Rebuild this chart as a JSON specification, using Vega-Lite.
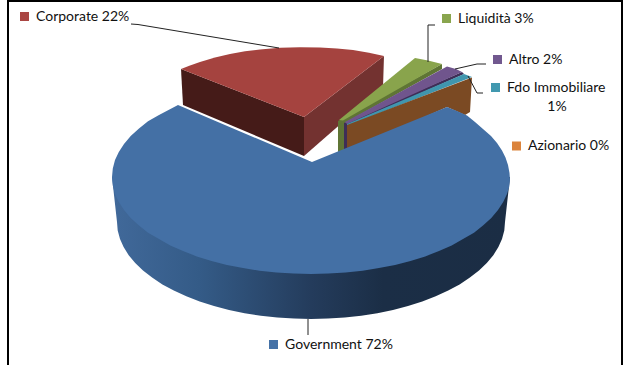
{
  "$schema": "https://vega.github.io/schema/vega-lite/v6.json",
  "width": 623,
  "height": 365,
  "padding": 0,
  "autosize": {"type": "none"},
  "background": "white",
  "view": {"stroke": null},
  "datasets": {
    "frame": [
      {"i": 0, "x": 8, "y": 365}, {"i": 1, "x": 8, "y": 1}, {"i": 2, "x": 622, "y": 1}, {"i": 3, "x": 622, "y": 365}
    ],
    "faces": [
      {"face": "Corporate cut left", "i": 0, "x": 181, "y": 69}, {"face": "Corporate cut left", "i": 1, "x": 304, "y": 117}, {"face": "Corporate cut left", "i": 2, "x": 304, "y": 156}, {"face": "Corporate cut left", "i": 3, "x": 183, "y": 105},
      {"face": "Corporate cut right", "i": 0, "x": 304, "y": 117}, {"face": "Corporate cut right", "i": 1, "x": 384, "y": 56}, {"face": "Corporate cut right", "i": 2, "x": 383, "y": 87}, {"face": "Corporate cut right", "i": 3, "x": 304, "y": 156},
      {"face": "Corporate top", "i": 0, "x": 181, "y": 69}, {"face": "Corporate top", "i": 1, "x": 190, "y": 65.5}, {"face": "Corporate top", "i": 2, "x": 200, "y": 62}, {"face": "Corporate top", "i": 3, "x": 215, "y": 57.5}, {"face": "Corporate top", "i": 4, "x": 230, "y": 54}, {"face": "Corporate top", "i": 5, "x": 245, "y": 51.3}, {"face": "Corporate top", "i": 6, "x": 260, "y": 49.5}, {"face": "Corporate top", "i": 7, "x": 280, "y": 47.7}, {"face": "Corporate top", "i": 8, "x": 300, "y": 47.2}, {"face": "Corporate top", "i": 9, "x": 320, "y": 47.5}, {"face": "Corporate top", "i": 10, "x": 337, "y": 48.5}, {"face": "Corporate top", "i": 11, "x": 353, "y": 50}, {"face": "Corporate top", "i": 12, "x": 369, "y": 52.8}, {"face": "Corporate top", "i": 13, "x": 384, "y": 56}, {"face": "Corporate top", "i": 14, "x": 304, "y": 117},
      {"face": "Liquidita side", "i": 0, "x": 338, "y": 121}, {"face": "Liquidita side", "i": 1, "x": 442, "y": 64}, {"face": "Liquidita side", "i": 2, "x": 442, "y": 69}, {"face": "Liquidita side", "i": 3, "x": 345, "y": 123}, {"face": "Liquidita side", "i": 4, "x": 344, "y": 155}, {"face": "Liquidita side", "i": 5, "x": 338, "y": 155},
      {"face": "Liquidita top", "i": 0, "x": 339, "y": 120}, {"face": "Liquidita top", "i": 1, "x": 415, "y": 58}, {"face": "Liquidita top", "i": 2, "x": 428, "y": 60.5}, {"face": "Liquidita top", "i": 3, "x": 442, "y": 64}, {"face": "Liquidita top", "i": 4, "x": 343, "y": 120.5},
      {"face": "Altro side", "i": 0, "x": 344, "y": 123}, {"face": "Altro side", "i": 1, "x": 462, "y": 72}, {"face": "Altro side", "i": 2, "x": 464, "y": 74}, {"face": "Altro side", "i": 3, "x": 347, "y": 126}, {"face": "Altro side", "i": 4, "x": 347, "y": 155}, {"face": "Altro side", "i": 5, "x": 344, "y": 155},
      {"face": "Altro top", "i": 0, "x": 345, "y": 122}, {"face": "Altro top", "i": 1, "x": 447, "y": 66.5}, {"face": "Altro top", "i": 2, "x": 456, "y": 69}, {"face": "Altro top", "i": 3, "x": 462, "y": 72}, {"face": "Altro top", "i": 4, "x": 347, "y": 124},
      {"face": "Fdo top", "i": 0, "x": 347, "y": 124}, {"face": "Fdo top", "i": 1, "x": 464, "y": 74}, {"face": "Fdo top", "i": 2, "x": 472, "y": 77}, {"face": "Fdo top", "i": 3, "x": 347, "y": 126},
      {"face": "Azionario", "i": 0, "x": 347, "y": 125}, {"face": "Azionario", "i": 1, "x": 472, "y": 77.5}, {"face": "Azionario", "i": 2, "x": 470, "y": 112}, {"face": "Azionario", "i": 3, "x": 465, "y": 115}, {"face": "Azionario", "i": 4, "x": 447, "y": 107}, {"face": "Azionario", "i": 5, "x": 347, "y": 152}
    ],
    "governmentSide": [
      {"i": 0, "x": 510, "y": 177}, {"i": 1, "x": 505, "y": 222}, {"i": 2, "x": 504.3, "y": 230.5}, {"i": 3, "x": 502, "y": 239}, {"i": 4, "x": 498.4, "y": 247.1}, {"i": 5, "x": 493.3, "y": 255.2}, {"i": 6, "x": 486.8, "y": 263}, {"i": 7, "x": 479, "y": 270.5}, {"i": 8, "x": 469.9, "y": 277.6}, {"i": 9, "x": 459.6, "y": 284.4}, {"i": 10, "x": 448.2, "y": 290.6}, {"i": 11, "x": 435.7, "y": 296.3}, {"i": 12, "x": 422.3, "y": 301.5}, {"i": 13, "x": 408, "y": 306}, {"i": 14, "x": 393, "y": 309.9}, {"i": 15, "x": 377.4, "y": 313.2}, {"i": 16, "x": 361.2, "y": 315.7}, {"i": 17, "x": 344.7, "y": 317.5}, {"i": 18, "x": 327.9, "y": 318.6}, {"i": 19, "x": 311, "y": 319}, {"i": 20, "x": 294.1, "y": 318.6}, {"i": 21, "x": 277.3, "y": 317.5}, {"i": 22, "x": 260.8, "y": 315.7}, {"i": 23, "x": 244.6, "y": 313.2}, {"i": 24, "x": 229, "y": 309.9}, {"i": 25, "x": 214, "y": 306}, {"i": 26, "x": 199.7, "y": 301.5}, {"i": 27, "x": 186.3, "y": 296.3}, {"i": 28, "x": 173.8, "y": 290.6}, {"i": 29, "x": 162.4, "y": 284.4}, {"i": 30, "x": 152.1, "y": 277.6}, {"i": 31, "x": 143, "y": 270.5}, {"i": 32, "x": 135.2, "y": 263}, {"i": 33, "x": 128.7, "y": 255.2}, {"i": 34, "x": 123.6, "y": 247.1}, {"i": 35, "x": 120, "y": 239}, {"i": 36, "x": 117.7, "y": 230.5}, {"i": 37, "x": 117, "y": 222}, {"i": 38, "x": 112, "y": 177}
    ],
    "governmentTop": [
      {"i": 0, "x": 510, "y": 180}, {"i": 1, "x": 509.2, "y": 187}, {"i": 2, "x": 507, "y": 194}, {"i": 3, "x": 503.2, "y": 202.1}, {"i": 4, "x": 498, "y": 210}, {"i": 5, "x": 491.3, "y": 218}, {"i": 6, "x": 483, "y": 225.5}, {"i": 7, "x": 474, "y": 232.7}, {"i": 8, "x": 463, "y": 239}, {"i": 9, "x": 451.7, "y": 245.6}, {"i": 10, "x": 439, "y": 251}, {"i": 11, "x": 425.2, "y": 256.4}, {"i": 12, "x": 410.5, "y": 261}, {"i": 13, "x": 395.1, "y": 264.9}, {"i": 14, "x": 379, "y": 268}, {"i": 15, "x": 362.5, "y": 270.7}, {"i": 16, "x": 345.6, "y": 272.5}, {"i": 17, "x": 328.3, "y": 273.6}, {"i": 18, "x": 311, "y": 274}, {"i": 19, "x": 293.7, "y": 273.6}, {"i": 20, "x": 276.4, "y": 272.5}, {"i": 21, "x": 259.5, "y": 270.7}, {"i": 22, "x": 243, "y": 268}, {"i": 23, "x": 226.9, "y": 264.9}, {"i": 24, "x": 211.5, "y": 261}, {"i": 25, "x": 196.8, "y": 256.4}, {"i": 26, "x": 183, "y": 251}, {"i": 27, "x": 170.3, "y": 245.6}, {"i": 28, "x": 159, "y": 239}, {"i": 29, "x": 148, "y": 232.7}, {"i": 30, "x": 139, "y": 225.5}, {"i": 31, "x": 130.7, "y": 218}, {"i": 32, "x": 124, "y": 210}, {"i": 33, "x": 118.8, "y": 202.1}, {"i": 34, "x": 115, "y": 194}, {"i": 35, "x": 112.8, "y": 185.5}, {"i": 36, "x": 112, "y": 177}, {"i": 37, "x": 112.8, "y": 168.5}, {"i": 38, "x": 115, "y": 160}, {"i": 39, "x": 118.8, "y": 151.9}, {"i": 40, "x": 124, "y": 144}, {"i": 41, "x": 130.7, "y": 136}, {"i": 42, "x": 139, "y": 128.5}, {"i": 43, "x": 148, "y": 121.3}, {"i": 44, "x": 159, "y": 115}, {"i": 45, "x": 178, "y": 105}, {"i": 46, "x": 312, "y": 162}, {"i": 47, "x": 447, "y": 107}, {"i": 48, "x": 457, "y": 111}, {"i": 49, "x": 467, "y": 115.5}, {"i": 50, "x": 475, "y": 122}, {"i": 51, "x": 483, "y": 129}, {"i": 52, "x": 491, "y": 136}, {"i": 53, "x": 497, "y": 143}, {"i": 54, "x": 502, "y": 150.5}, {"i": 55, "x": 505.5, "y": 157.5}, {"i": 56, "x": 508, "y": 165}, {"i": 57, "x": 509.5, "y": 173}
    ],
    "leaders": [
      {"leader": "Corporate", "i": 0, "x": 131, "y": 24}, {"leader": "Corporate", "i": 1, "x": 138, "y": 24.5}, {"leader": "Corporate", "i": 2, "x": 279, "y": 48},
      {"leader": "Liquidita", "i": 0, "x": 435, "y": 25}, {"leader": "Liquidita", "i": 1, "x": 428, "y": 25}, {"leader": "Liquidita", "i": 2, "x": 428, "y": 62},
      {"leader": "Altro", "i": 0, "x": 486, "y": 64}, {"leader": "Altro", "i": 1, "x": 477, "y": 64}, {"leader": "Altro", "i": 2, "x": 455, "y": 69},
      {"leader": "Fdo", "i": 0, "x": 483, "y": 93}, {"leader": "Fdo", "i": 1, "x": 477, "y": 93}, {"leader": "Fdo", "i": 2, "x": 468, "y": 76},
      {"leader": "Government", "i": 0, "x": 308, "y": 319}, {"leader": "Government", "i": 1, "x": 308, "y": 335}
    ],
    "legend": [
      {"name": "Corporate", "share": 22, "text": "Corporate 22%", "sx": 24.5, "sy": 16.5, "tx": 36, "ty": 17},
      {"name": "Liquidità", "share": 3, "text": "Liquidità 3%", "sx": 446.5, "sy": 18.5, "tx": 458, "ty": 19},
      {"name": "Altro", "share": 2, "text": "Altro 2%", "sx": 497.5, "sy": 59.5, "tx": 509, "ty": 60},
      {"name": "Fdo Immobiliare", "share": 1, "text": "Fdo Immobiliare", "sx": 495.5, "sy": 87.5, "tx": 507, "ty": 88},
      {"name": "Azionario", "share": 0, "text": "Azionario 0%", "sx": 516.5, "sy": 146, "tx": 528, "ty": 146},
      {"name": "Government", "share": 72, "text": "Government 72%", "sx": 273.5, "sy": 344.5, "tx": 285, "ty": 345}
    ],
    "wrapped": [{"text": "1%", "tx": 557, "ty": 107}]
  },
  "encoding": {
    "x": {"type": "quantitative", "scale": {"domain": [0, 623], "nice": false, "zero": false}, "axis": null},
    "y": {"type": "quantitative", "scale": {"domain": [0, 365], "reverse": true, "nice": false, "zero": false}, "axis": null}
  },
  "layer": [
    {
      "data": {"name": "faces"},
      "mark": {"type": "line", "stroke": null, "strokeWidth": 0, "interpolate": "linear-closed"},
      "encoding": {
        "x": {"field": "x"},
        "y": {"field": "y"},
        "order": {"field": "i", "type": "ordinal"},
        "fill": {
          "field": "face",
          "type": "nominal",
          "legend": null,
          "scale": {
            "domain": ["Corporate cut left", "Corporate cut right", "Corporate top", "Liquidita side", "Liquidita top", "Altro side", "Altro top", "Fdo top", "Azionario"],
            "range": ["#451b18", "#733230", "#A5433F", "#5f7535", "#89A44C", "#3e2e57", "#70558D", "#4096AE", "#7b4a23"]
          }
        }
      }
    },
    {
      "data": {"name": "governmentSide"},
      "mark": {
        "type": "line",
        "stroke": null,
        "strokeWidth": 0,
        "interpolate": "linear-closed",
        "fill": {
          "gradient": "linear",
          "x1": 0, "y1": 0, "x2": 1, "y2": 0,
          "stops": [
            {"offset": 0, "color": "#41699a"},
            {"offset": 0.22, "color": "#345b87"},
            {"offset": 0.5, "color": "#243c5c"},
            {"offset": 0.68, "color": "#1b2e46"},
            {"offset": 1, "color": "#1b2d44"}
          ]
        }
      },
      "encoding": {
        "x": {"field": "x"},
        "y": {"field": "y"},
        "order": {"field": "i", "type": "ordinal"}
      }
    },
    {
      "data": {"name": "governmentTop"},
      "mark": {"type": "line", "stroke": null, "strokeWidth": 0, "fill": "#4470A5", "interpolate": "linear-closed"},
      "encoding": {
        "x": {"field": "x"},
        "y": {"field": "y"},
        "order": {"field": "i", "type": "ordinal"}
      }
    },
    {
      "data": {"name": "leaders"},
      "mark": {"type": "line", "stroke": "#222222", "strokeWidth": 1},
      "encoding": {
        "x": {"field": "x"},
        "y": {"field": "y"},
        "detail": {"field": "leader"},
        "order": {"field": "i", "type": "ordinal"}
      }
    },
    {
      "data": {"name": "frame"},
      "mark": {"type": "line", "stroke": "#000000", "strokeWidth": 2},
      "encoding": {
        "x": {"field": "x"},
        "y": {"field": "y"},
        "order": {"field": "i", "type": "ordinal"}
      }
    },
    {
      "data": {"name": "legend"},
      "mark": {"type": "point", "shape": "square", "filled": true, "size": 81, "opacity": 1},
      "encoding": {
        "x": {"field": "sx"},
        "y": {"field": "sy"},
        "color": {
          "field": "name",
          "type": "nominal",
          "legend": null,
          "scale": {
            "domain": ["Corporate", "Liquidità", "Altro", "Fdo Immobiliare", "Azionario", "Government"],
            "range": ["#AA4643", "#89A54E", "#71588F", "#4198AF", "#DB843D", "#4572A7"]
          }
        }
      }
    },
    {
      "data": {"name": "legend"},
      "mark": {"type": "text", "align": "left", "baseline": "middle", "font": "Lato", "fontSize": 14, "color": "#111111"},
      "encoding": {
        "x": {"field": "tx"},
        "y": {"field": "ty"},
        "text": {"field": "text"}
      }
    },
    {
      "data": {"name": "wrapped"},
      "mark": {"type": "text", "align": "center", "baseline": "middle", "font": "Lato", "fontSize": 14, "color": "#111111"},
      "encoding": {
        "x": {"field": "tx"},
        "y": {"field": "ty"},
        "text": {"field": "text"}
      }
    }
  ]
}
